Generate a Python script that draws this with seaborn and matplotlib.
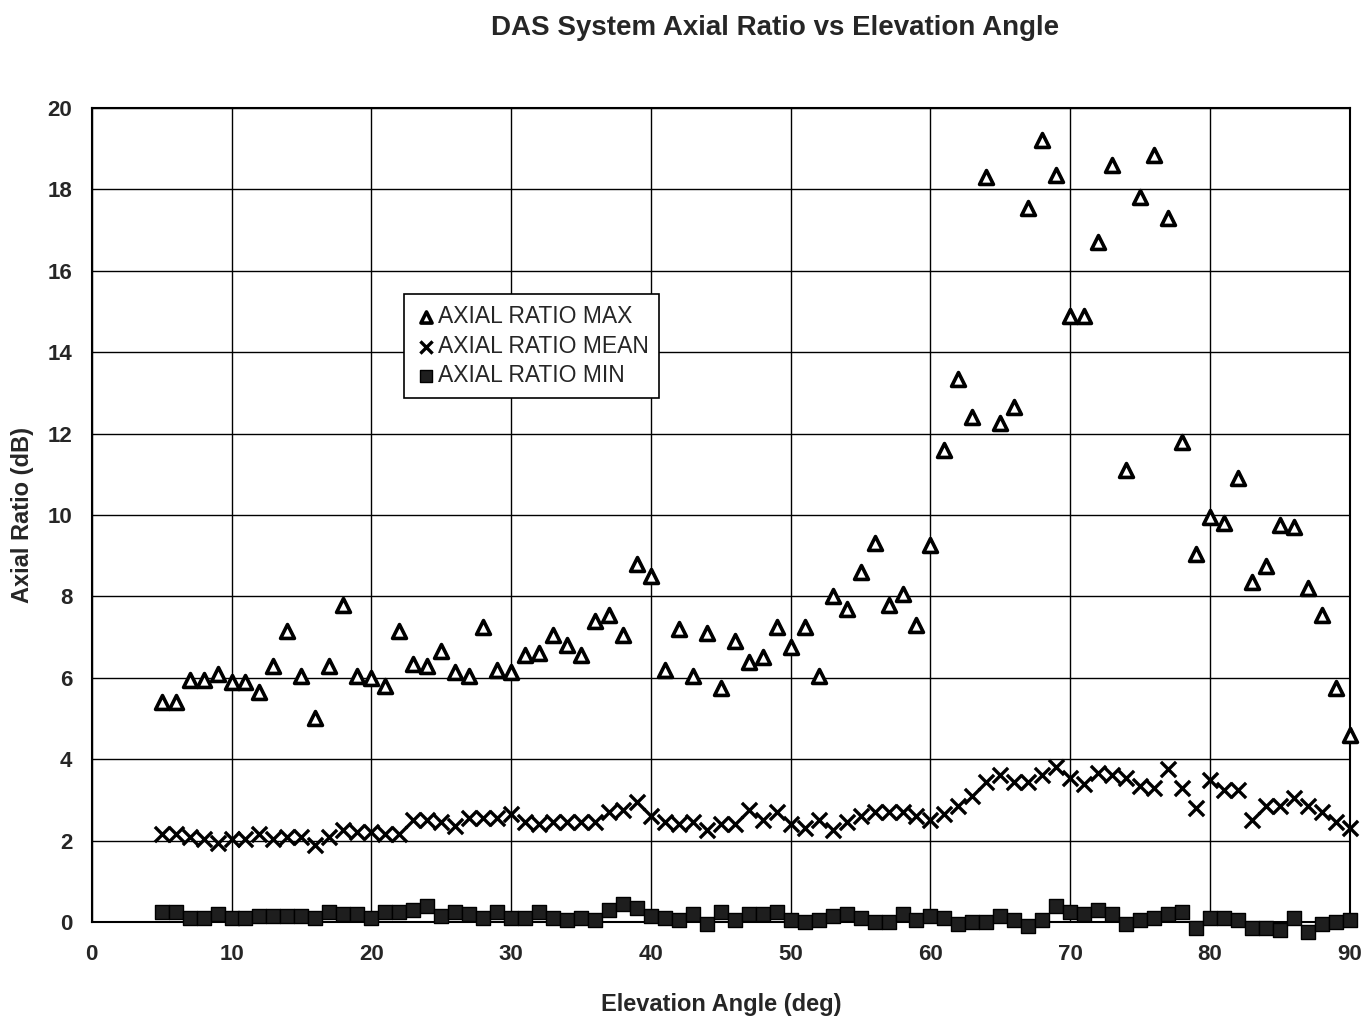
import matplotlib
matplotlib.use("Agg")
import matplotlib.pyplot as plt
import seaborn as sns
import numpy as np
import pandas as pd

elevation = list(range(5, 91))

ar_max = [5.4, 5.4, 5.95, 5.95, 6.1, 5.9, 5.9, 5.65, 6.3, 7.15,
          6.05, 5.0, 6.3, 7.8, 6.05, 6.0, 5.8, 7.15, 6.35, 6.3,
          6.65, 6.15, 6.05, 7.25, 6.2, 6.15, 6.55, 6.6, 7.05, 6.8,
          6.55, 7.4, 7.55, 7.05, 8.8, 8.5, 6.2, 7.2, 6.05, 7.1,
          5.75, 6.9, 6.4, 6.5, 7.25, 6.75, 7.25, 6.05, 8.0, 7.7,
          8.6, 9.3, 7.8, 8.05, 7.3, 9.25, 11.6, 13.35, 12.4, 18.3,
          12.25, 12.65, 17.55, 19.2, 18.35, 14.9, 14.9, 16.7, 18.6, 11.1,
          17.8, 18.85, 17.3, 11.8, 9.05, 9.95, 9.8, 10.9, 8.35, 8.75,
          9.75, 9.7, 8.2, 7.55, 5.75, 4.6]

ar_mean = [2.15, 2.15, 2.1, 2.05, 1.95, 2.05, 2.05, 2.15, 2.05, 2.1,
           2.1, 1.9, 2.1, 2.25, 2.2, 2.2, 2.15, 2.15, 2.5, 2.5,
           2.45, 2.35, 2.55, 2.55, 2.55, 2.65, 2.45, 2.4, 2.45, 2.45,
           2.45, 2.45, 2.7, 2.75, 2.95, 2.6, 2.45, 2.4, 2.45, 2.25,
           2.4, 2.4, 2.75, 2.5, 2.7, 2.4, 2.3, 2.5, 2.25, 2.45,
           2.6, 2.7, 2.7, 2.7, 2.6, 2.5, 2.65, 2.85, 3.1, 3.45,
           3.6, 3.45, 3.45, 3.6, 3.8, 3.55, 3.4, 3.65, 3.6, 3.55,
           3.35, 3.3, 3.75, 3.3, 2.8, 3.5, 3.25, 3.25, 2.5, 2.85,
           2.85, 3.05, 2.85, 2.7, 2.45, 2.3]

ar_min = [0.25, 0.25, 0.1, 0.1, 0.2, 0.1, 0.1, 0.15, 0.15, 0.15,
          0.15, 0.1, 0.25, 0.2, 0.2, 0.1, 0.25, 0.25, 0.3, 0.4,
          0.15, 0.25, 0.2, 0.1, 0.25, 0.1, 0.1, 0.25, 0.1, 0.05,
          0.1, 0.05, 0.3, 0.45, 0.35, 0.15, 0.1, 0.05, 0.2, -0.05,
          0.25, 0.05, 0.2, 0.2, 0.25, 0.05, 0.0, 0.05, 0.15, 0.2,
          0.1, 0.0, 0.0, 0.2, 0.05, 0.15, 0.1, -0.05, 0.0, 0.0,
          0.15, 0.05, -0.1, 0.05, 0.4, 0.25, 0.2, 0.3, 0.2, -0.05,
          0.05, 0.1, 0.2, 0.25, -0.15, 0.1, 0.1, 0.05, -0.15, -0.15,
          -0.2, 0.1, -0.25, -0.05, 0.0, 0.05]

x_ticks = [0, 10, 20, 30, 40, 50, 60, 70, 80, 90]
y_ticks = [0, 2, 4, 6, 8, 10, 12, 14, 16, 18, 20]

sns.set_theme(style="white")
plt.rcParams['font.family'] = ['Liberation Sans', 'DejaVu Sans']

fig = plt.figure(figsize=(13.69, 10.24), dpi=100)
ax = fig.add_axes([0.067, 0.0996, 0.919, 0.795])

df = pd.DataFrame({"x": elevation, "max": ar_max, "mean": ar_mean, "min": ar_min})

sns.scatterplot(data=df, x="x", y="max", ax=ax, marker="^", s=100,
                facecolor="white", edgecolor="black", linewidth=2.6,
                label="AXIAL RATIO MAX", clip_on=False, zorder=4)
sns.scatterplot(data=df, x="x", y="mean", ax=ax, marker="x", s=120,
                color="black", linewidth=2.4,
                label="AXIAL RATIO MEAN", clip_on=False, zorder=4)
sns.scatterplot(data=df, x="x", y="min", ax=ax, marker="s", s=100,
                color="#1e1e1e", edgecolor="black", linewidth=1.0,
                label="AXIAL RATIO MIN", clip_on=False, zorder=4)

ax.set_xlim(0, 90)
ax.set_ylim(0, 20)
ax.set_xticks(x_ticks)
ax.set_yticks(y_ticks)
ax.tick_params(axis="both", labelsize=16, length=0)
ax.tick_params(axis="x", pad=16)
ax.tick_params(axis="y", pad=14)
for lbl in ax.get_xticklabels() + ax.get_yticklabels():
    lbl.set_fontweight("bold")
ax.grid(True, color="black", linewidth=1.0)
for sp in ax.spines.values():
    sp.set_color("black")
    sp.set_linewidth(1.5)

ax.set_xlabel("Elevation Angle (deg)", fontsize=17, fontweight="bold", labelpad=20)
ax.set_ylabel("Axial Ratio (dB)", fontsize=17, fontweight="bold", labelpad=10)
fig.suptitle("DAS System Axial Ratio vs Elevation Angle", fontsize=20,
             fontweight="bold", x=0.566, y=0.985)

leg = ax.legend(loc="upper left", bbox_to_anchor=(0.239, 0.785), fontsize=16.5,
                frameon=True, fancybox=False, edgecolor="black", framealpha=1,
                handletextpad=0.05, borderpad=0.45, labelspacing=0.3,
                handlelength=1.0, markerscale=0.8)
leg.get_frame().set_linewidth(1.2)

fig.savefig("out.png", dpi=100)
